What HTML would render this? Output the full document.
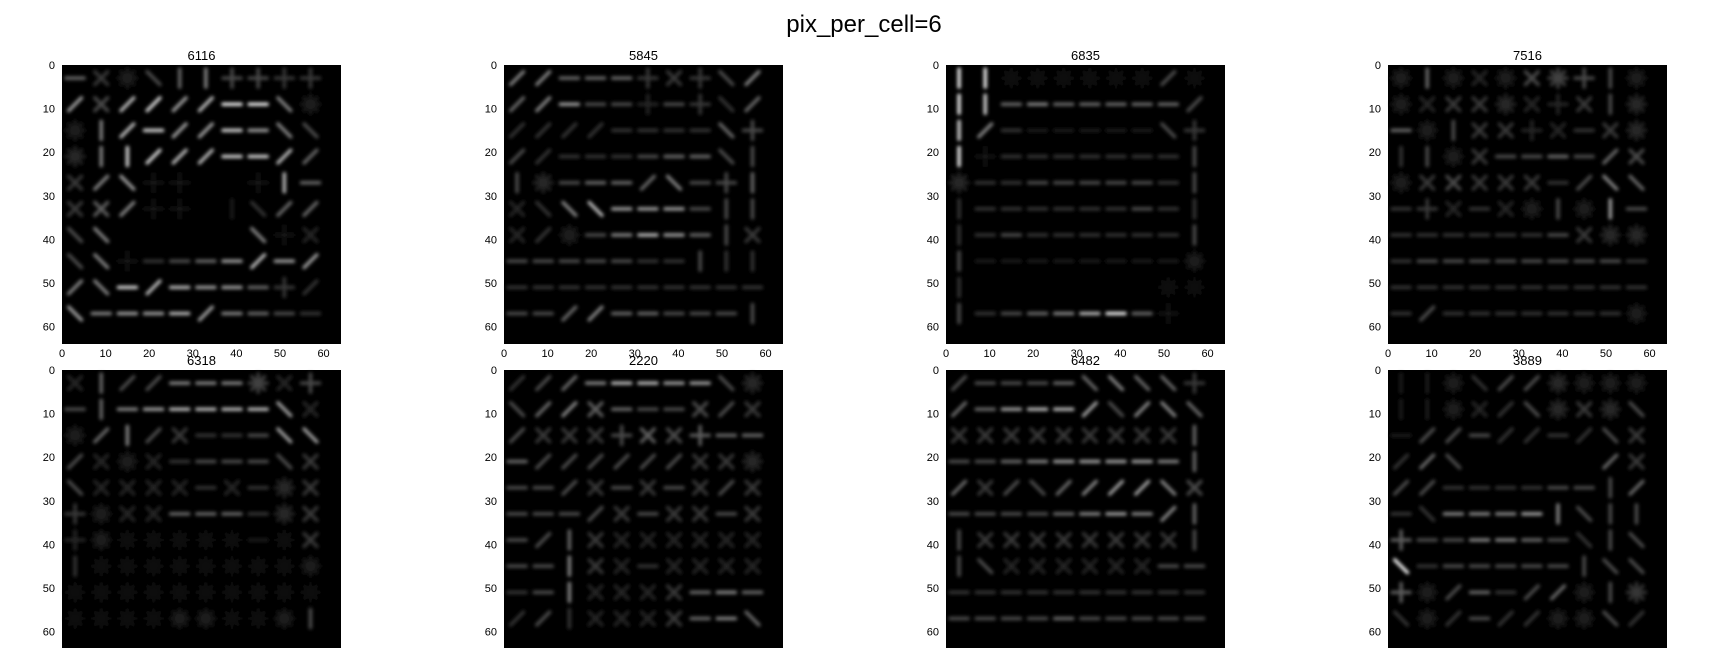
<!DOCTYPE html>
<html><head><meta charset="utf-8"><style>
html,body{margin:0;padding:0;background:#fff;width:1728px;height:648px;overflow:hidden}
svg text{font-family:"Liberation Sans",sans-serif;fill:#000}
</style></head><body>
<svg id="fig" width="1728" height="648" viewBox="0 0 1728 648" xmlns="http://www.w3.org/2000/svg">
<defs><filter id="glow" x="-20%" y="-20%" width="140%" height="140%"><feGaussianBlur stdDeviation="1.8"/></filter></defs>
<text x="864" y="32" font-size="24" text-anchor="middle">pix_per_cell=6</text>
</svg>
<script>
const titles = ["6116","5845","6835","7516","6318","2220","6482","3889"];
const tickValues = [0,10,20,30,40,50,60];
const orient1 = ["hxslvvpppp","rxrrrrhhls","svrhrrhhll","svvrrrhhrr","xrl.....vh","xxr...vlrr","ll.....l.x","ll.hhhhrhr","rlhrhhhhpr","lhhhhrhhhh"];
const bright1 = ["4323454433","6478679952","2578668653","3588778874","3561100174","3551101244","3500000522","3512346766","5587766432","6566765432"];
const orient2 = ["rrhhhpxplr","rrhhhphplr","rrrrhhhhlp","rrhhhhhhlv","vshhhrlhpv","xlllhhhhvv","xrshhhhhvx","hhhhhhhvvv","hhhhhhhhhh","hhrrhhhhhv"];
const bright2 = ["5544433335","4563323324","2222222244","3222234433","3334445344","2257666333","2223576433","3333322322","2222222222","3345443333"];
const orient3 = ["vvssssssrs","vvhhhhhhhr","vrhhhhhhlp","v.hhhhhhhv","shhhhhhhhv","vhhhhhhhhv","vhhhhhhhhv","vhhhhhhhhs","v.......ss","vhhhhhhh.."];
const bright3 = ["9911111131","9845444443","8521111133","9122222223","3223333323","2222222322","2232222223","3111111112","2000000011","3234579410"];
const orient4 = ["svsxsxspvs","sxxxsxpxvs","hsvxxpxhxs","vvsxhhhhrx","sxxxxxhrll","hpxhxsvsvh","hhhhhhhxss","hhhhhhhhhh","hhhhhhhhhh","hrhhhhhhhs"];
const bright4 = ["2422245432","2233322333","4233322233","2323334344","2343332354","2322223263","2222223333","2333333332","2222222222","2322222222"];
const orient5 = ["xvrrhhhsxp","hvhhhhhhlx","srvrxhhhll","rxsxhhhhlx","lxxxxhxhsx","psxxhhhhsx","psssssshsx","vsssssssss","ssssssssss","sssssssssv"];
const bright5 = ["2433555524","3456777762","2453322366","3222233333","3222222233","3222444233","2211111113","2111111112","1111111111","1111221123"];
const orient6 = ["rrrhhhhhls","lrrxhhhxrx","rxxxpxxphh","hrrrrrrxxs","hhrxhxhxrx","hhhrxhxxhx","hrvxxxxxxx","hhvxxhxxxx","hhvxxxxhhh","rrvxxxxhhl"];
const bright6 = ["2345776633","3455433433","3333454544","4333333333","3333333333","3333333333","3343222222","3353222222","2352223454","2322223454"];
const orient7 = ["rhhhhllllp","rhhhhrlrll","xxxxxxxxxv","hhhhhhhhhv","rxrlrrrrlx","hhhhhhhhrv","vxxxxxxxxv","vlxxxxxxhh","hhhhhhhhhh","hhhhhhhhhh"];
const bright7 = ["3333445443","4467763554","3333333334","3345666654","4333456654","3333456554","3333333333","3322222233","2222222222","3333433333"];
const orient8 = ["vvslrrssss","vvsxrlsxsl","hrrhrrhrlx","rrl....rrx","rrhhhhhhvr","hlhhhhvlvv","phhhhhhlvl","lhhhhhhvll","psrhhrrsvs","lsrhrrsslr"];
const bright8 = ["1122333222","1122233333","1333222233","2430000043","3322223334","2255565333","5335543233","9233333333","5234234234","2223222232"];
const orients = [orient1,orient2,orient3,orient4,orient5,orient6,orient7,orient8];
const brights = [bright1,bright2,bright3,bright4,bright5,bright6,bright7,bright8];

const NS="http://www.w3.org/2000/svg";
const fig=document.getElementById('fig');
const SIZE=279, XMAX=64, colX=[62,504,946,1388], rowY=[65,370];
const angles={h:[0],v:[90],r:[45],l:[135],p:[0,90],x:[45,135],s:[0,45,90,135],'.':[0,90]};
function mk(tag,attrs,parent){const e=document.createElementNS(NS,tag);for(const k in attrs)e.setAttribute(k,attrs[k]);parent.appendChild(e);return e;}
titles.forEach((t,i)=>{
  const ax0=colX[i%4], ay0=rowY[Math.floor(i/4)];
  const sx=v=>ax0+v*SIZE/XMAX, sy=v=>ay0+v*SIZE/XMAX;
  const g=mk('g',{},fig);
  
  
  const bg=mk('rect',{x:ax0,y:ay0,width:SIZE,height:SIZE,fill:'#000'},g);
  
  
  const gl=mk('g',{filter:'url(#glow)','stroke-linecap':'round'},g);
  const o=orients[i], b=brights[i];
  for(let r=0;r<10;r++)for(let c=0;c<10;c++){
    const ch=o[r][c]; let br=+b[r][c]; if(br===0)continue;
    if(ch==='.')br=Math.min(br,1);
    const cx=sx(6*c+3), cy=sy(6*r+3), L=9, n=angles[ch].length;
    angles[ch].forEach(a=>{
      const rad=a*Math.PI/180, dx=Math.cos(rad)*L, dy=-Math.sin(rad)*L;
      const gv=Math.min(255,Math.round(br*26/(n>2?2:(n>1?1.4:1))));
      const ln=mk('line',{x1:cx-dx,y1:cy-dy,x2:cx+dx,y2:cy+dy,stroke:`rgb(${gv},${gv},${gv})`,'stroke-width':3.5},gl);
      
      
    });
  }
  const tt=mk('text',{x:ax0+SIZE/2,y:ay0-5,'font-size':13,'text-anchor':'middle'},g);
  tt.textContent=t;
  
  
  tickValues.forEach(v=>{
    const yl=mk('text',{x:ax0-7,y:sy(v)+4,'font-size':11,'text-anchor':'end'},g);
    yl.textContent=v;
    
    
    const xl=mk('text',{x:sx(v),y:ay0+SIZE+13,'font-size':11,'text-anchor':'middle'},g);
    xl.textContent=v;
    
    
  });
});
</script>
</body></html>
